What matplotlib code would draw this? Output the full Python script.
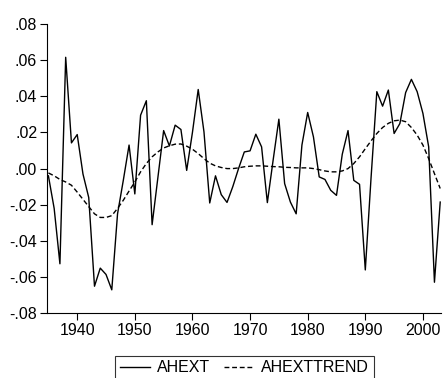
"""AHEXT with its trend, annual 1935-2003."""

import matplotlib
matplotlib.use("Agg")
import matplotlib.pyplot as plt
from matplotlib.ticker import FuncFormatter

plt.rcParams["font.family"] = ["Liberation Sans", "DejaVu Sans"]

years = list(range(1935, 2004))

ahext = [
    -0.004, -0.022, -0.0526, 0.0615, 0.0142, 0.0188, -0.003, -0.016, -0.065, -0.055,
    -0.0585, -0.067, -0.025, -0.0065, 0.013, -0.014, 0.0295, 0.0375, -0.031, -0.005,
    0.021, 0.0125, 0.024, 0.0216, -0.001, 0.020, 0.0437, 0.0203, -0.019, -0.004,
    -0.0144, -0.0187, -0.010, 0.000, 0.0092, 0.0098, 0.019, 0.012, -0.0188, 0.0046,
    0.0273, -0.0083, -0.0185, -0.025, 0.013, 0.031, 0.0175, -0.0046, -0.006, -0.012,
    -0.0148, 0.0079, 0.021, -0.0065, -0.0087, -0.056, -0.005, 0.0425, 0.0345, 0.0434,
    0.0194, 0.0249, 0.042, 0.0493, 0.0425, 0.0305, 0.012, -0.0628, -0.0185,
]

ahexttrend = [
    -0.0024, -0.004, -0.006, -0.0074, -0.0092, -0.013, -0.017, -0.021, -0.025, -0.027,
    -0.027, -0.026, -0.022, -0.0175, -0.0124, -0.0074, -0.0018, 0.0028, 0.0065, 0.0092,
    0.0114, 0.0126, 0.0135, 0.0136, 0.0124, 0.0107, 0.0083, 0.0055, 0.003, 0.0015,
    0.0006, 0.0, 0.0, 0.0004, 0.001, 0.0013, 0.0015, 0.0015, 0.0013, 0.0011,
    0.001, 0.0007, 0.0006, 0.0004, 0.0004, 0.0004, 0.0, -0.0006, -0.0013, -0.0018,
    -0.0018, -0.0013, 0.0, 0.0028, 0.0065, 0.011, 0.0153, 0.0194, 0.0227, 0.025,
    0.0264, 0.0268, 0.0259, 0.0227, 0.0185, 0.013, 0.0055, -0.0028, -0.011,
]

yticks = [-0.08, -0.06, -0.04, -0.02, 0.00, 0.02, 0.04, 0.06, 0.08]
xticks = [1940, 1950, 1960, 1970, 1980, 1990, 2000]


def short_fmt(v, _pos):
    s = f"{v:.2f}"
    if s.startswith("-0"):
        return "-" + s[2:]
    if s.startswith("0"):
        return s[1:]
    return s


fig = plt.figure(figsize=(4.43, 3.78), dpi=100)
ax = fig.add_axes([0.106, 0.171, 0.889, 0.766])

ax.plot(years, ahext, color="black", linewidth=1.0, label="AHEXT")
ax.plot(years, ahexttrend, color="black", linewidth=1.0, linestyle=(0, (3.5, 2)),
        label="AHEXTTREND")

ax.set_xlim(1934.75, 2003.1)
ax.set_ylim(-0.08, 0.08)
ax.set_xticks(xticks)
ax.set_yticks(yticks)
ax.yaxis.set_major_formatter(FuncFormatter(short_fmt))
ax.tick_params(axis="both", labelsize=11.5, length=5, width=0.8, pad=2, colors="black")
ax.spines["top"].set_visible(False)
ax.spines["right"].set_visible(False)
for side in ("left", "bottom"):
    ax.spines[side].set_linewidth(0.8)

handles, labels = ax.get_legend_handles_labels()
leg = fig.legend(handles, labels, loc="upper left", bbox_to_anchor=(0.26, 0.059),
                 ncol=2, fontsize=11.5, frameon=True, fancybox=False,
                 edgecolor="black", handlelength=1.85, handletextpad=0.45,
                 columnspacing=0.9, borderpad=0.3, borderaxespad=0)
leg.get_frame().set_linewidth(0.8)

fig.savefig("out.png", dpi=100)
